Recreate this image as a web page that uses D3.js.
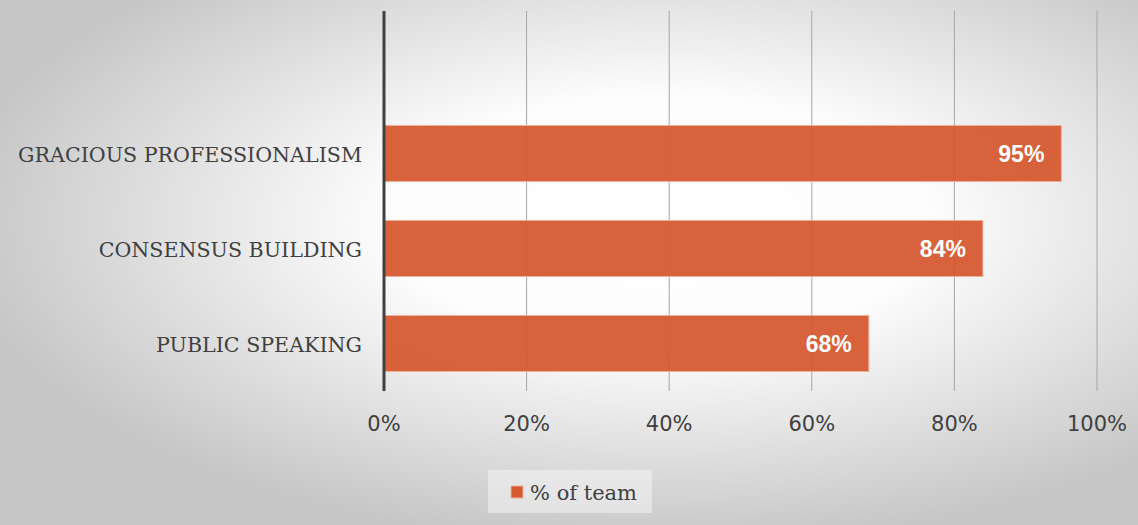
<!DOCTYPE html>
<html>
<head>
<meta charset="utf-8">
<script src="https://cdn.jsdelivr.net/npm/d3@7"></script>
<style>
  body { margin: 0; overflow: hidden; }
  .catText { font-family: "DejaVu Serif", serif; font-size: 20.6px; fill: #404040; }
  .tickText { font-family: "DejaVu Sans", sans-serif; font-size: 21px; fill: #404040; }
  .valText { font-family: "Liberation Sans", Arial, sans-serif; font-size: 23px; font-weight: bold; fill: #ffffff; }
  .legendText { font-family: "DejaVu Serif", serif; font-size: 21px; fill: #404040; }
</style>
</head>
<body>
<div id="chart"></div>
<script>
// chart data
var categories = ["GRACIOUS PROFESSIONALISM", "CONSENSUS BUILDING", "PUBLIC SPEAKING"];
var values = [95, 84, 68];
var ticks = [0, 20, 40, 60, 80, 100];
var seriesName = "% of team";

var svgWidth = 1138, svgHeight = 525;
var margin = { top: 11, left: 384, right: 41, bottom: 134 };
var width = svgWidth - margin.left - margin.right;
var height = svgHeight - margin.top - margin.bottom;

var svg = d3.select("#chart")
  .append("svg")
  .attr("width", svgWidth)
  .attr("height", svgHeight);

// background radial gradient
var defs = svg.append("defs");
var grad = defs.append("radialGradient")
  .attr("id", "bg")
  .attr("cx", "58%").attr("cy", "42%").attr("r", "62%");
grad.append("stop").attr("offset", "0%").attr("stop-color", "#ffffff");
grad.append("stop").attr("offset", "38%").attr("stop-color", "#fdfdfd");
grad.append("stop").attr("offset", "100%").attr("stop-color", "#c6c6c6");

svg.append("rect")
  .attr("width", svgWidth)
  .attr("height", svgHeight)
  .attr("fill", "url(#bg)");

var chartGroup = svg.append("g")
  .attr("transform", `translate(${margin.left}, ${margin.top})`);

var xScale = d3.scaleLinear()
  .domain([0, 100])
  .range([0, width]);

// the top slot of the category axis is left empty, as in the original
var yScale = d3.scaleBand()
  .domain([""].concat(categories))
  .range([0, height])
  .paddingInner(0.41)
  .paddingOuter(0.205);

// gridlines
chartGroup.selectAll(".grid")
  .data(ticks.slice(1))
  .enter()
  .append("line")
  .attr("x1", d => xScale(d))
  .attr("x2", d => xScale(d))
  .attr("y1", 0)
  .attr("y2", height)
  .attr("stroke", "#a6a6a6")
  .attr("stroke-width", 1);

// bars
chartGroup.selectAll(".bar")
  .data(categories)
  .enter()
  .append("rect")
  .attr("x", 0)
  .attr("y", d => yScale(d))
  .attr("width", (d, i) => xScale(values[i]))
  .attr("height", yScale.bandwidth())
  .attr("fill", "#d5582f")
  .attr("fill-opacity", 0.94)
  .attr("stroke", "#eeb39c")
  .attr("stroke-width", 1);

// value labels
chartGroup.selectAll(".val")
  .data(categories)
  .enter()
  .append("text")
  .attr("class", "valText")
  .attr("x", (d, i) => xScale(values[i]) - 17)
  .attr("y", d => yScale(d) + yScale.bandwidth() / 2 + 8)
  .attr("text-anchor", "end")
  .text((d, i) => values[i] + "%");

// vertical axis line
chartGroup.append("line")
  .attr("x1", 0).attr("x2", 0)
  .attr("y1", 0).attr("y2", height)
  .attr("stroke", "#404040")
  .attr("stroke-width", 3);

// category labels
chartGroup.selectAll(".cat")
  .data(categories)
  .enter()
  .append("text")
  .attr("class", "catText")
  .attr("x", -22)
  .attr("y", d => yScale(d) + yScale.bandwidth() / 2 + 8)
  .attr("text-anchor", "end")
  .text(d => d);

// tick labels
chartGroup.selectAll(".tick")
  .data(ticks)
  .enter()
  .append("text")
  .attr("class", "tickText")
  .attr("x", d => xScale(d))
  .attr("y", height + 40)
  .attr("text-anchor", "middle")
  .text(d => d + "%");

// legend
var legend = svg.append("g");
legend.append("rect")
  .attr("x", 488).attr("y", 470)
  .attr("width", 164).attr("height", 43)
  .attr("fill", "#f7f7f7")
  .attr("fill-opacity", 0.5);
legend.append("rect")
  .attr("x", 511).attr("y", 486)
  .attr("width", 12).attr("height", 12)
  .attr("fill", "#d5582f")
  .attr("stroke", "#eeb39c");
legend.append("text")
  .attr("class", "legendText")
  .attr("x", 530).attr("y", 500)
  .text(seriesName);
</script>
</body>
</html>
